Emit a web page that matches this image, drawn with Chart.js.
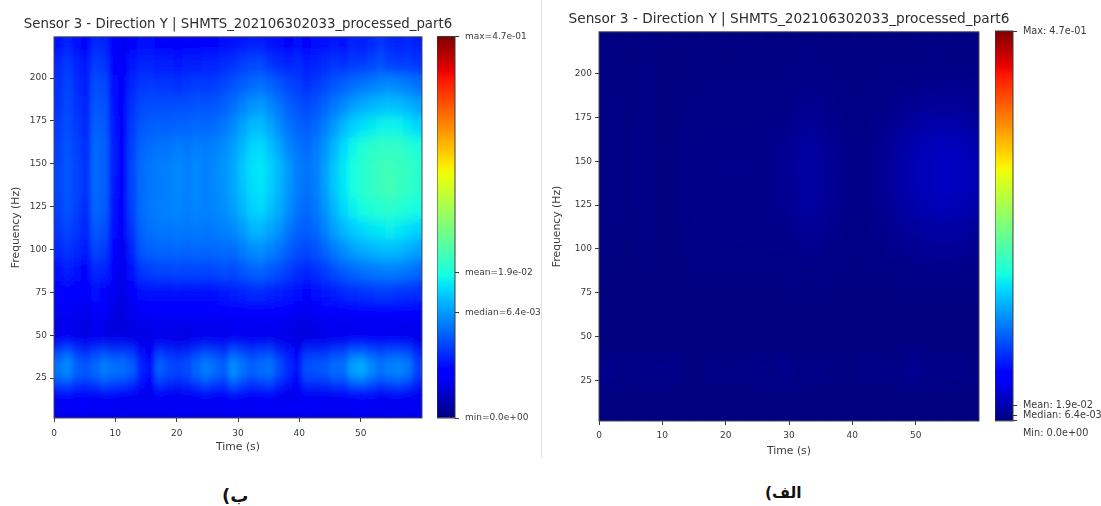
<!DOCTYPE html>
<html>
<head>
<meta charset="utf-8">
<script src="https://cdn.jsdelivr.net/npm/chart.js@4"></script>
<style>
  html, body { margin: 0; background: #fff; width: 1101px; height: 506px; overflow: hidden; }
  canvas { position: absolute; filter: blur(0.35px); }
  .cap { position: absolute; font-family: "DejaVu Sans", sans-serif; font-weight: bold; color: #111; direction: rtl; }
  #divider { position: absolute; left: 541px; top: 0; width: 1px; height: 458px; background: #e2e2e2; }
</style>
</head>
<body>
<canvas id="heatB" width="476" height="458" style="left:0;top:0"></canvas>
<canvas id="barB" width="108" height="440" style="left:437px;top:20px"></canvas>
<div id="divider"></div>
<canvas id="heatA" width="488" height="461" style="left:545px;top:0"></canvas>
<canvas id="barA" width="106" height="445" style="left:995px;top:15px"></canvas>
<div class="cap" style="left:222px;top:485px;font-size:18px">ب)</div>
<div class="cap" style="left:765px;top:484px;font-size:15.5px">الف)</div>
<svg width="0" height="0" style="position:absolute">
  <filter id="smear" x="0" y="0" width="100%" height="100%"><feGaussianBlur stdDeviation="2.4 6.5"/></filter>
</svg>
<script>
var chartTitle = 'Sensor 3 - Direction Y | SHMTS_202106302033_processed_part6';
var timeTicks = [0, 10, 20, 30, 40, 50];
var freqTicks = [25, 50, 75, 100, 125, 150, 175, 200];

// column centres in seconds
var times = [0.75, 2.25, 3.75, 5.25, 6.75, 8.25, 9.75, 11.25, 12.75, 14.25, 15.75, 17.25, 18.75, 20.25, 21.75, 23.25, 24.75, 26.25, 27.75, 29.25,
             30.75, 32.25, 33.75, 35.25, 36.75, 38.25, 39.75, 41.25, 42.75, 44.25, 45.75, 47.25, 48.75, 50.25, 51.75, 53.25, 54.75, 56.25, 57.75, 59.25];
// row edges in Hz, top to bottom
var freqEdges = [224, 214, 202, 190, 178, 166, 154, 142, 130, 118, 106, 94, 82, 70, 59, 50, 43, 37, 31, 25, 19.5, 14.5, 9.5, 5, 1.7];

// amplitude x 1e-3, one row per frequency band
var amp = [
  [.7,1.0,.7,.5,1.1,1.0,.4,.2,.5,.6,.6,.5,.5,.4,.5,.4,.5,.5,.6,.7,.8,.9,.9,.7,.6,.5,.7,.5,.6,.7,.8,.7,1.0,.9,1.1,1.5,1.1,1.0,1.1,.9],
  [1.1,1.6,1.0,.8,1.7,1.5,.5,.25,.8,1.0,1.0,.9,.9,.8,.9,.9,1.0,1.0,1.2,1.4,1.8,2.0,2.1,1.5,1.2,1.0,1.2,.9,1.0,1.2,1.5,1.3,1.6,1.6,1.9,2.4,1.8,1.6,1.7,1.5],
  [1.3,1.9,1.2,.9,2.2,2.0,.6,.28,1.1,1.5,1.6,1.5,1.5,1.4,1.5,1.6,1.6,1.7,2.0,2.4,2.9,3.5,3.7,3.2,2.6,2,1.7,1.3,1.6,2,2.6,3,3.6,4,4.5,5,5.4,5,4.4,3.8],
  [1.4,2.1,1.4,1.0,2.6,2.4,.7,.3,1.4,2.0,2.2,2.2,2.2,2.2,2.3,2.5,2.4,2.6,3.0,3.7,4.8,6,6.5,5.2,4,3,2.4,2,2.4,3.2,4.2,5.2,6.8,7.8,8.8,9.5,10,9.5,8.5,7.2],
  [1.6,2.3,1.6,1.1,3.0,2.7,.8,.32,1.6,2.6,2.9,3.0,3.0,3.2,3.2,3.4,3.3,3.6,4.2,5.2,7,9,9.5,7.5,5.5,4,3.2,2.8,3.4,4.6,6.5,9,11.5,13.5,15,16,16.5,16,14.5,12.5],
  [1.8,2.5,1.8,1.2,3.3,3.0,.85,.35,1.8,3.2,3.6,4.0,4.0,4.5,4.2,4.6,4.4,4.8,5.5,6.8,9,12,13,10,7.5,5,4,3.5,4.4,6,9,13,16.5,19.5,22,24,24.5,24,22,19],
  [1.9,2.6,1.9,1.3,3.5,3.0,.85,.41,1.9,3.5,4.0,4.6,4.6,5.3,4.6,5.3,4.6,5.3,6.0,7.5,10.5,13.5,14.5,12,9,6.5,4.6,4,4.6,7,10.5,14.5,18,21.5,24,26,27,26,24.5,22],
  [1.9,2.6,1.9,1.3,3.4,3.0,.8,.38,1.9,3.4,4.0,4.5,4.6,5.2,4.6,5.2,4.6,5.2,6.0,7.4,10,13,14,11.5,8.8,6.2,4.4,3.8,4.5,7,10.5,14.5,18,21.5,24,26,27.5,26,24.5,22],
  [1.8,2.4,1.8,1.2,3.2,2.8,.7,.33,1.8,3.6,4.2,4.6,4.7,5,4.6,5,4.7,5,5.6,6.8,8.8,11.5,12.5,10,8,5.6,4,3.4,4.2,6,9,12.5,15.5,18,20,21.5,22.5,21.5,20,18],
  [1.5,2.0,1.5,1.0,2.7,2.3,.55,.25,1.5,3.2,3.8,4.2,4.2,4.4,4.2,4.4,4.2,4.4,4.8,5.2,6.5,8.5,9,7.4,6,4.2,3.2,2.8,3.4,4.8,7,9,11,12.5,14,15,15.5,15,13.5,12],
  [1.1,1.5,1.1,.8,1.9,1.6,.4,.2,1.0,2.6,3,3.2,3.2,3.4,3.2,3.4,3.3,3.4,3.6,3.6,4.4,5.4,5.8,4.8,4,3,2.3,2,2.4,3.2,4.4,5.6,6.8,7.8,8.6,9.2,9.5,9.2,8.2,7],
  [.7,.9,.7,.5,1.1,1.0,.3,.18,.6,1.5,1.8,1.9,1.9,2,1.9,2,1.9,2,2.2,2.1,2.5,3,3.2,2.7,2.2,1.7,1.3,1.1,1.3,1.7,2.2,2.8,3.3,3.8,4.2,4.4,4.6,4.4,4,3.4],
  [.4,.5,.4,.3,.6,.5,.2,.14,.35,.55,.6,.65,.65,.7,.65,.7,.7,.7,.8,.9,1,1.2,1.2,1.05,.9,.75,.6,.5,.6,.8,.95,1.1,1.3,1.4,1.5,1.6,1.6,1.5,1.4,1.3],
  [.22,.25,.22,.18,.3,.28,.15,.12,.2,.28,.3,.3,.32,.33,.32,.33,.32,.33,.35,.38,.42,.45,.45,.38,.35,.3,.25,.22,.25,.3,.35,.38,.4,.42,.42,.42,.4,.38,.36,.35],
  [.14,.15,.14,.12,.16,.15,.1,.09,.12,.15,.15,.16,.15,.16,.14,.16,.17,.16,.17,.18,.2,.2,.2,.18,.17,.15,.12,.12,.13,.15,.17,.18,.18,.19,.19,.2,.19,.18,.18,.17],
  [.22,.3,.22,.18,.22,.22,.18,.18,.2,.16,.13,.2,.16,.15,.16,.2,.22,.22,.2,.28,.22,.2,.22,.2,.16,.15,.11,.18,.18,.2,.22,.24,.3,.3,.28,.25,.28,.25,.22,.18],
  [1.9,2.9,1.6,1.3,1.8,2.1,1.6,1.8,1.4,.6,.3,1.4,1.1,1,1.1,1.6,2.1,1.8,1.4,2.6,2.1,1.6,1.9,2.1,1.1,.8,.3,1.3,1.3,1.3,1.8,1.9,2.9,3,2.4,2.1,2.4,2.4,2.1,1],
  [4.0,5.8,3.0,2.6,3.4,4.6,3.8,3.8,3.0,1.0,.6,3.2,2.3,2.0,2.2,3.4,4.6,3.8,3.0,5.6,4.0,3.0,3.6,3.9,2.2,1.2,.6,2.4,2.6,2.8,3.6,3.8,7,8,5.5,3.9,4.8,5.0,4.4,1.8],
  [4.4,5.4,3.2,2.8,3.6,4.8,4.0,3.8,3.0,1.0,.6,3.0,2.2,1.9,2.2,3.5,4.8,3.8,3.0,6.0,4.2,3.0,3.8,4.0,2.2,1.2,.6,2.4,2.5,2.8,3.8,3.8,7.2,8.2,5.6,4.0,4.8,5.2,4.4,1.8],
  [1.8,2,1.4,1.3,1.5,2,1.7,1.5,1.1,.55,.35,1.3,1,.85,1,1.4,2,1.5,1.3,2.7,1.8,1.3,1.5,1.7,1,.55,.3,1.1,1.1,1.1,1.5,1.5,2.2,2.4,2,1.5,1.8,2,1.5,.85],
  [.4,.42,.3,.28,.3,.35,.32,.3,.25,.2,.16,.25,.22,.2,.22,.28,.3,.3,.25,.4,.3,.25,.3,.3,.22,.18,.14,.22,.2,.22,.25,.28,.32,.32,.3,.28,.3,.3,.28,.2],
  [.2,.22,.2,.3,.2,.2,.22,.18,.16,.18,.2,.22,.18,.2,.25,.18,.2,.18,.18,.22,.2,.2,.18,.22,.18,.2,.28,.22,.2,.22,.18,.2,.22,.2,.2,.16,.14,.16,.2,.22],
  [.28,.3,.35,.3,.28,.3,.25,.28,.3,.28,.3,.25,.32,.3,.26,.3,.28,.32,.3,.28,.3,.28,.32,.3,.28,.3,.35,.3,.38,.32,.28,.3,.32,.28,.26,.3,.28,.3,.3,.28],
  [.12,.14,.12,.13,.12,.14,.12,.13,.12,.12,.14,.12,.13,.12,.14,.12,.13,.12,.12,.14,.12,.13,.12,.12,.14,.12,.13,.12,.14,.12,.13,.12,.12,.14,.12,.13,.12,.14,.12,.12]
];

// colourbar: same four statistics on both panels, in real units
var cbarValues = [0, 6.4e-3, 1.9e-2, 4.7e-1];
var cbarLabelsB = ['min=0.0e+00', 'median=6.4e-03', 'mean=1.9e-02', 'max=4.7e-01'];
var cbarLabelsA = ['Min: 0.0e+00', 'Median: 6.4e-03', 'Mean: 1.9e-02', 'Max: 4.7e-01'];

var vmax = 0.47;
var FONT = '"DejaVu Sans", sans-serif';
var INK = '#3a3a3a';

// left panel uses a power norm, right one is linear
function normB(v) { return Math.pow(v / vmax, 0.3); }
function normA(v) { return v / vmax; }

// matplotlib jet segments
var jetR = [[0, 0], [.35, 0], [.66, 1], [.89, 1], [1, .5]];
var jetG = [[0, 0], [.125, 0], [.375, 1], [.64, 1], [.91, 0], [1, 0]];
var jetB = [[0, .5], [.11, 1], [.34, 1], [.65, 0], [1, 0]];

function seg(s, p) {
  for (var i = 1; i < s.length; i++) {
    if (p <= s[i][0]) {
      return s[i-1][1] + (s[i][1] - s[i-1][1]) * (p - s[i-1][0]) / (s[i][0] - s[i-1][0]);
    }
  }
  return s[s.length-1][1];
}
function jet(p) {
  p = Math.max(0, Math.min(1, p));
  return 'rgb(' + Math.round(seg(jetR, p) * 255) + ',' + Math.round(seg(jetG, p) * 255) + ',' + Math.round(seg(jetB, p) * 255) + ')';
}

// smooths the drawn cells the way imshow's interpolation does, then draws the frame
var smoothPlugin = {
  id: 'smooth',
  afterDatasetsDraw: function(chart) {
    var a = chart.chartArea, ctx = chart.ctx;
    var w = Math.round(a.right - a.left), h = Math.round(a.bottom - a.top);
    var tmp = document.createElement('canvas');
    tmp.width = w; tmp.height = h;
    tmp.getContext('2d').drawImage(chart.canvas, a.left, a.top, w, h, 0, 0, w, h);
    ctx.save();
    ctx.beginPath();
    ctx.rect(a.left, a.top, w, h);
    ctx.clip();
    ctx.filter = 'url(#smear)';
    ctx.drawImage(tmp, a.left, a.top);
    ctx.restore();
    ctx.save();
    ctx.strokeStyle = '#4a4a55';
    ctx.lineWidth = 1;
    ctx.strokeRect(a.left, a.top, a.right - a.left, a.bottom - a.top);
    ctx.restore();
  }
};

function heatChart(id, norm, titleSize, titleTop, titleBottom, ylabelPad, xlabelPad, xtickPad) {
  var datasets = amp.map(function(row, r) {
    return {
      data: row.map(function(v, c) { return { x: times[c], y: [freqEdges[r+1], freqEdges[r]] }; }),
      backgroundColor: row.map(function(v) { return jet(norm(v * 1e-3)); }),
      borderWidth: 0,
      barThickness: 'flex',
      barPercentage: 1,
      categoryPercentage: 1,
      stack: 'cells'
    };
  });
  return new Chart(document.getElementById(id), {
    type: 'bar',
    data: { datasets: datasets },
    plugins: [smoothPlugin],
    options: {
      responsive: false,
      animation: false,
      plugins: {
        legend: { display: false },
        tooltip: { enabled: false },
        title: {
          display: true, text: chartTitle, color: '#2e2e2e',
          font: { family: FONT, size: titleSize, weight: 'normal', lineHeight: 1.2 },
          padding: { top: titleTop, bottom: titleBottom }
        }
      },
      scales: {
        x: {
          type: 'linear', min: 0, max: 60, offset: false, stacked: true,
          afterBuildTicks: function(ax) { ax.ticks = timeTicks.map(function(v) { return { value: v }; }); },
          afterFit: function(ax) { ax.height = 40; },
          grid: { drawOnChartArea: false, offset: false, tickLength: 4, tickColor: INK },
          border: { display: false },
          ticks: { color: INK, padding: xtickPad, maxRotation: 0, autoSkip: false, font: { family: FONT, size: 9 } },
          title: { display: true, text: 'Time (s)', color: INK, font: { family: FONT, size: 10.8, lineHeight: 1.2 }, padding: { top: 0, bottom: xlabelPad } }
        },
        y: {
          min: 1.7, max: 224, stacked: false,
          afterBuildTicks: function(ax) { ax.ticks = freqTicks.map(function(v) { return { value: v }; }); },
          afterFit: function(ax) { ax.width = 54; },
          grid: { drawOnChartArea: false, tickLength: 4, tickColor: INK },
          border: { display: false },
          ticks: { color: INK, padding: 3, autoSkip: false, font: { family: FONT, size: 9 } },
          title: { display: true, text: 'Frequency (Hz)', color: INK, font: { family: FONT, size: 10.8, lineHeight: 1.2 }, padding: { top: ylabelPad, bottom: 0 } }
        },
        // empty axis, only balances the left one so the title centres on the plot
        spacer: {
          position: 'right', display: true,
          afterFit: function(ax) { ax.width = 54; },
          grid: { display: false }, border: { display: false }, ticks: { display: false }
        }
      }
    }
  });
}

var barFrame = {
  id: 'barFrame',
  afterDatasetsDraw: function(chart) {
    var a = chart.chartArea, y = chart.scales.y, ctx = chart.ctx;
    ctx.save();
    ctx.strokeStyle = '#3c3c3c';
    ctx.lineWidth = 1;
    ctx.strokeRect(a.left, y.getPixelForValue(1), a.right - a.left, y.getPixelForValue(0) - y.getPixelForValue(1));
    ctx.restore();
  }
};

function colorbar(id, norm, labels, top, bottom, yMin, minLabelBelow, labelSize) {
  var ticks = cbarValues.map(function(v, i) { return { value: norm(v), label: labels[i] }; });
  if (minLabelBelow) {
    // the min label sits under the bar, so it gets its own unmarked tick
    ticks.unshift({ value: yMin, label: labels[0] });
    ticks[1].label = '';
  }
  return new Chart(document.getElementById(id), {
    type: 'bar',
    data: {
      labels: [''],
      datasets: [{
        data: [[0, 1]],
        barPercentage: 1,
        categoryPercentage: 1,
        borderWidth: 0,
        backgroundColor: function(c) {
          var a = c.chart.chartArea;
          if (!a) return '#000';
          var y = c.chart.scales.y;
          var g = c.chart.ctx.createLinearGradient(0, y.getPixelForValue(0), 0, y.getPixelForValue(1));
          for (var i = 0; i <= 64; i++) g.addColorStop(i / 64, jet(i / 64));
          return g;
        }
      }]
    },
    plugins: [barFrame],
    options: {
      responsive: false,
      animation: false,
      layout: { padding: { top: top, bottom: bottom } },
      plugins: { legend: { display: false }, tooltip: { enabled: false } },
      scales: {
        x: { display: false },
        y: {
          position: 'right', min: yMin, max: 1,
          afterBuildTicks: function(ax) { ax.ticks = ticks.map(function(t) { return { value: t.value }; }); },
          afterFit: function(ax) { ax.width = ax.chart.width - 18; },
          grid: {
            drawOnChartArea: false, tickLength: 4,
            tickColor: function(c) { return c.tick && c.tick.value < 0 ? 'rgba(0,0,0,0)' : INK; }
          },
          border: { display: false },
          ticks: {
            color: INK, padding: 6, autoSkip: false, font: { family: FONT, size: labelSize },
            callback: function(v, i) { return ticks[i] ? ticks[i].label : ''; }
          }
        }
      }
    }
  });
}

heatChart('heatB', normB, 13.3, 16.5, 4.4, 10, 4, 6);
colorbar('barB', normB, cbarLabelsB, 16.5, 42, 0, false, 9);
heatChart('heatA', normA, 13.7, 11, 4.4, 6, 3, 5);
colorbar('barA', normA, cbarLabelsA, 16, 27, -0.031, true, 9.7);
</script>
</body>
</html>
